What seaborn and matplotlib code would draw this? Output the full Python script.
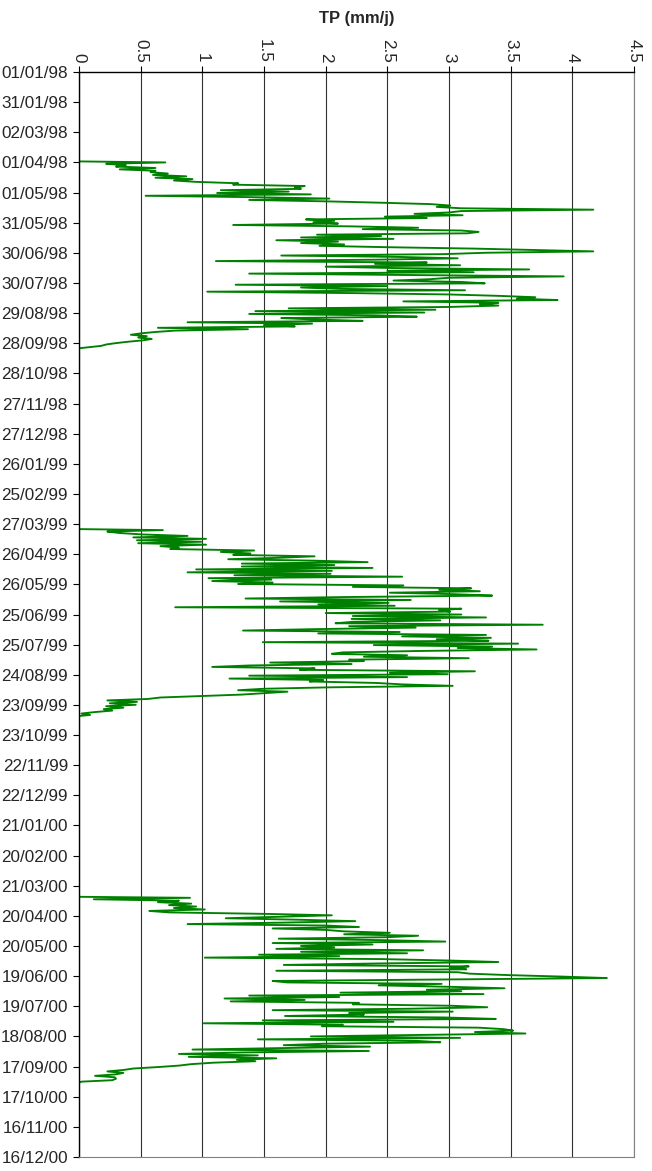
import pandas as pd
import numpy as np
import matplotlib
matplotlib.use('Agg')
import matplotlib.pyplot as plt
import seaborn as sns

# Daily TP values (mm/j); zero outside the growing seasons
origin = pd.Timestamp('1998-01-01')
series_end = pd.Timestamp('2000-10-29')

season_starts = ['1998-04-01', '1999-04-02', '2000-04-02']
season_ends = ['1998-10-02', '1999-10-03', '2000-10-02']

tp_1998 = [0.70, 0.22, 0.38, 0.30, 0.62, 0.33, 0.62, 0.58, 0.72, 0.60, 0.87, 0.62, 0.92,
           0.77, 0.95, 1.29, 1.25, 1.83, 1.75, 1.80, 1.15, 1.70, 1.12, 1.88, 0.54, 1.40,
           2.03, 1.38, 2.00, 2.45, 2.85, 3.01, 2.90, 3.10, 4.17, 3.10, 3.00, 2.72, 3.11,
           2.48, 2.82, 1.84, 2.07, 1.90, 2.10, 1.25, 2.20, 2.75, 2.30, 3.10, 3.24, 3.15,
           1.93, 2.45, 1.80, 2.55, 1.60, 2.10, 1.80, 2.15, 1.95, 2.50, 3.20, 3.70, 4.17,
           3.30, 2.95, 1.64, 2.60, 3.07, 2.40, 1.11, 2.82, 2.40, 3.09, 2.00, 2.55, 3.65,
           2.50, 3.20, 1.38, 2.70, 3.93, 3.00, 2.85, 2.55, 3.10, 3.29, 1.27, 2.50, 1.80,
           2.12, 3.13, 1.04, 2.20, 3.00, 3.40, 3.70, 3.55, 3.88, 2.63, 3.40, 3.25, 3.40,
           3.00, 1.70, 2.89, 1.43, 2.80, 1.38, 2.40, 2.74, 1.64, 1.90, 2.30, 0.88, 1.89,
           1.50, 1.75, 0.64, 1.37, 0.78, 0.62, 0.50, 0.42, 0.55, 0.48, 0.59, 0.52, 0.40,
           0.30, 0.22, 0.18, 0.08]

tp_1999 = [0.68, 0.23, 0.33, 0.52, 0.88, 0.44, 1.03, 0.47, 0.99, 0.48, 1.03, 0.66, 0.81,
           0.74, 1.42, 1.15, 1.39, 1.25, 1.91, 1.63, 1.21, 1.91, 2.34, 1.32, 2.07, 1.32,
           2.38, 0.95, 2.05, 0.88, 2.04, 1.26, 2.62, 1.05, 1.56, 1.08, 1.57, 1.29, 2.63,
           2.22, 3.18, 2.92, 3.25, 2.52, 3.04, 3.35, 2.14, 1.35, 2.69, 1.63, 2.51, 1.94,
           2.56, 0.78, 3.10, 2.92, 3.01, 2.00, 3.10, 2.22, 3.30, 2.21, 2.93, 2.22, 2.08,
           3.76, 2.19, 2.73, 1.94, 1.33, 2.60, 1.94, 3.30, 2.62, 3.34, 2.90, 3.32, 1.49,
           3.56, 2.39, 3.35, 3.07, 3.71, 2.79, 2.14, 2.05, 2.66, 2.31, 3.16, 2.19, 2.31,
           1.55, 2.21, 1.38, 1.08, 1.91, 1.79, 3.21, 2.52, 2.99, 1.38, 2.66, 1.22, 1.98,
           1.87, 2.41, 2.62, 3.03, 2.04, 1.50, 1.29, 1.69, 1.50, 1.32, 0.98, 0.66, 0.56,
           0.23, 0.47, 0.25, 0.46, 0.22, 0.36, 0.20, 0.27, 0.13, 0.02, 0.09]

tp_2000 = [0.90, 0.12, 0.81, 0.64, 0.91, 0.73, 0.95, 0.77, 1.02, 0.57, 0.73, 1.50, 2.05,
           1.62, 1.19, 1.77, 2.24, 1.66, 0.88, 2.00, 2.27, 1.57, 2.00, 2.15, 2.52, 2.15,
           2.75, 2.50, 1.62, 2.45, 2.97, 1.57, 2.38, 1.80, 2.07, 1.60, 2.79, 1.80, 2.66,
           1.46, 2.11, 1.02, 2.45, 3.01, 3.40, 2.42, 1.66, 3.16, 3.01, 3.14, 1.60, 3.07,
           3.17, 3.49, 3.92, 4.28, 2.93, 1.57, 1.69, 2.94, 2.43, 3.01, 3.45, 2.82, 3.10,
           2.12, 3.28, 1.38, 2.11, 1.18, 1.83, 1.23, 2.27, 2.22, 3.03, 3.31, 2.70, 1.57,
           3.03, 2.19, 2.31, 1.67, 2.96, 3.38, 1.49, 2.55, 1.01, 2.14, 1.97, 3.24, 3.44,
           3.52, 3.21, 3.62, 2.73, 1.88, 3.09, 1.45, 2.73, 2.93, 1.98, 1.66, 2.36, 1.64,
           0.92, 2.35, 1.32, 0.81, 1.45, 0.89, 1.60, 1.28, 1.43, 1.09, 0.91, 0.81, 0.64,
           0.44, 0.36, 0.23, 0.36, 0.30, 0.13, 0.29, 0.30, 0.27, 0.02]

x_ticks = [0, 0.5, 1, 1.5, 2, 2.5, 3, 3.5, 4, 4.5]
x_tick_labels = ['0', '0.5', '1', '1.5', '2', '2.5', '3', '3.5', '4', '4.5']


def build_series():
    frames = []
    prev_end = origin - pd.Timedelta(days=1)
    for start, end, vals in zip(season_starts, season_ends, [tp_1998, tp_1999, tp_2000]):
        start, end = pd.Timestamp(start), pd.Timestamp(end)
        off = pd.date_range(prev_end + pd.Timedelta(days=1), start - pd.Timedelta(days=1), freq='D')
        frames.append(pd.DataFrame({'date': off, 'tp': 0.0}))
        frames.append(pd.DataFrame({'date': pd.date_range(start, end, periods=len(vals)), 'tp': vals}))
        prev_end = end
    off = pd.date_range(prev_end + pd.Timedelta(days=1), series_end, freq='D')
    frames.append(pd.DataFrame({'date': off, 'tp': 0.0}))
    df = pd.concat(frames, ignore_index=True)
    df['day'] = (df['date'] - origin) / pd.Timedelta(days=1)
    return df


df = build_series()

sns.set_style('white')
plt.rcParams['font.family'] = ['Liberation Sans', 'DejaVu Sans']

W, H = 652, 1171
fig = plt.figure(figsize=(W / 100, H / 100), dpi=100)
left, right, top, bottom = 79, 634, 72, 1157
ax = fig.add_axes([left / W, 1 - bottom / H, (right - left) / W, (bottom - top) / H])

sns.lineplot(data=df, x='tp', y='day', orient='y', sort=False, estimator=None,
             color='#008000', linewidth=1.35, ax=ax)

# date ticks every 30 days, as in the original
tick_dates = pd.date_range(origin, periods=37, freq='30D')
ax.set_yticks((tick_dates - origin).days)
ax.set_yticklabels(tick_dates.strftime('%d/%m/%y'), fontsize=12.3)
ax.set_ylim(1080, 0)
ax.set_ylabel('')

ax.xaxis.tick_top()
ax.set_xlim(0, 4.5)
ax.set_xticks(x_ticks)
ax.set_xticklabels(x_tick_labels, rotation=-90, fontsize=12.3)
ax.set_xlabel('')

ax.grid(axis='x', color='#303030', linewidth=0.8)
ax.set_axisbelow(True)
ax.tick_params(axis='y', direction='out', length=4, width=0.8, color='black', left=True, pad=4)
ax.tick_params(axis='x', direction='out', length=4, width=0.8, color='black', top=True, pad=3)

for side in ['left', 'top']:
    ax.spines[side].set_color('black')
    ax.spines[side].set_linewidth(1.0)
for side in ['right', 'bottom']:
    ax.spines[side].set_color('#808080')
    ax.spines[side].set_linewidth(0.8)

fig.text((left + right) / 2 / W, 1 - 18 / H, 'TP (mm/j)', ha='center', va='center',
         fontsize=12, fontweight='bold')

fig.savefig('out.png', dpi=100)
plt.close(fig)
